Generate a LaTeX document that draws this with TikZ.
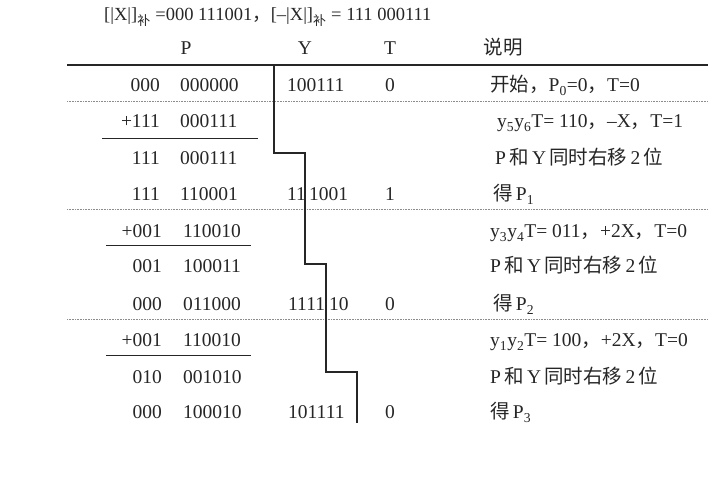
\documentclass[tikz,border=0pt]{standalone}
\usepackage{fontspec}
\setmainfont{Liberation Serif}
\newfontfamily\cjk{Noto Sans CJK SC}
\usepackage{tikz}
\usepackage{xcolor}
\definecolor{dGray}{gray}{0.15}
\definecolor{lGray}{gray}{0.55}
\newcommand{\hz}[1]{{\cjk #1}}
\newcommand{\bu}{\textsubscript{\hz{补}}}
\newcommand{\shift}{P\,\hz{和}\,Y\,\hz{同时右移}\,2\,\hz{位}}

\begin{document}
\begin{tikzpicture}[x=1pt, y=-1pt, font=\fontsize{19.5}{22}\selectfont, text=dGray,
    lt/.style={anchor=base west, inner sep=0pt},
    rt/.style={anchor=base east, inner sep=0pt},
    ct/.style={anchor=base, inner sep=0pt},
    rowline/.style={densely dotted, lGray, line width=0.6pt},
    sumline/.style={dGray, line width=1pt}]
        \useasboundingbox (0,0) rectangle (713,478);
        % title and head
        \node [lt, font=\fontsize{18.5}{20}\selectfont] (title) at (104,21)
          {[|X|]\bu{} =000 111001\hz{，}[--|X|]\bu{} = 111 000111};
        \node [ct] (hP) at (186,55) {P};
        \node [ct] (hY) at (305,55) {Y};
        \node [ct] (hT) at (390,55) {T};
        \node [ct] (hS) at (503,55) {\hz{说明}};
        \draw [dGray, line width=1.6pt] (67,65) -- (708,65);
        % column P
        \node [rt] (a1) at (160,92)  {000};  \node [lt] (b1) at (180,92)  {000000};
        \node [rt] (a2) at (160,128) {+111}; \node [lt] (b2) at (180,128) {000111};
        \node [rt] (a3) at (160,165) {111};  \node [lt] (b3) at (180,165) {000111};
        \node [rt] (a4) at (160,201) {111};  \node [lt] (b4) at (180,201) {110001};
        \node [rt] (a5) at (162,238) {+001}; \node [lt] (b5) at (183,238) {110010};
        \node [rt] (a6) at (162,273) {001};  \node [lt] (b6) at (183,273) {100011};
        \node [rt] (a7) at (162,311) {000};  \node [lt] (b7) at (183,311) {011000};
        \node [rt] (a8) at (162,347) {+001}; \node [lt] (b8) at (183,347) {110010};
        \node [rt] (a9) at (162,384) {010};  \node [lt] (b9) at (183,384) {001010};
        \node [rt] (a10) at (162,419) {000}; \node [lt] (b10) at (183,419) {100010};
        % column Y and T
        \node [lt] (y1) at (287,92)  {100111};
        \node [lt] (y4) at (287,201) {11};   \node [lt] (y4b) at (309,201) {1001};
        \node [lt] (y7) at (288,311) {1111}; \node [lt] (y7b) at (329,311) {10};
        \node [lt] (y10) at (288,419) {101111};
        \node [ct] (t1) at (390,92)  {0};
        \node [ct] (t4) at (390,201) {1};
        \node [ct] (t7) at (390,311) {0};
        \node [ct] (t10) at (390,419) {0};
        % explanations
        \node [lt] (s1) at (490,92)  {\hz{开始，}P\textsubscript{0}=0\hz{，}T=0};
        \node [lt] (s2) at (497,128) {y\textsubscript{5}y\textsubscript{6}T= 110\hz{，}--X\hz{，}T=1};
        \node [lt] (s3) at (495,165) {\shift};
        \node [lt] (s4) at (493,201) {\hz{得}\,P\textsubscript{1}};
        \node [lt] (s5) at (490,238) {y\textsubscript{3}y\textsubscript{4}T= 011\hz{，}+2X\hz{，}T=0};
        \node [lt] (s6) at (490,273) {\shift};
        \node [lt] (s7) at (493,311) {\hz{得}\,P\textsubscript{2}};
        \node [lt] (s8) at (490,347) {y\textsubscript{1}y\textsubscript{2}T= 100\hz{，}+2X\hz{，}T=0};
        \node [lt] (s9) at (490,384) {\shift};
        \node [lt] (s10) at (490,419) {\hz{得}\,P\textsubscript{3}};
        % rules
        \draw [rowline] (67,101) -- (708,101);
        \draw [rowline] (67,209) -- (708,209);
        \draw [rowline] (67,319) -- (708,319);
        \draw [sumline] (102,139) -- (258,139);
        \draw [sumline] (106,246) -- (251,246);
        \draw [sumline] (106,356) -- (251,356);
        % shift border of Y
        \draw [dGray, line width=1.2pt] (274,65) -- (274,153) -- (305,153) -- (305,264)
          -- (326,264) -- (326,372) -- (357,372) -- (357,423);
      \end{tikzpicture}
\end{document}
